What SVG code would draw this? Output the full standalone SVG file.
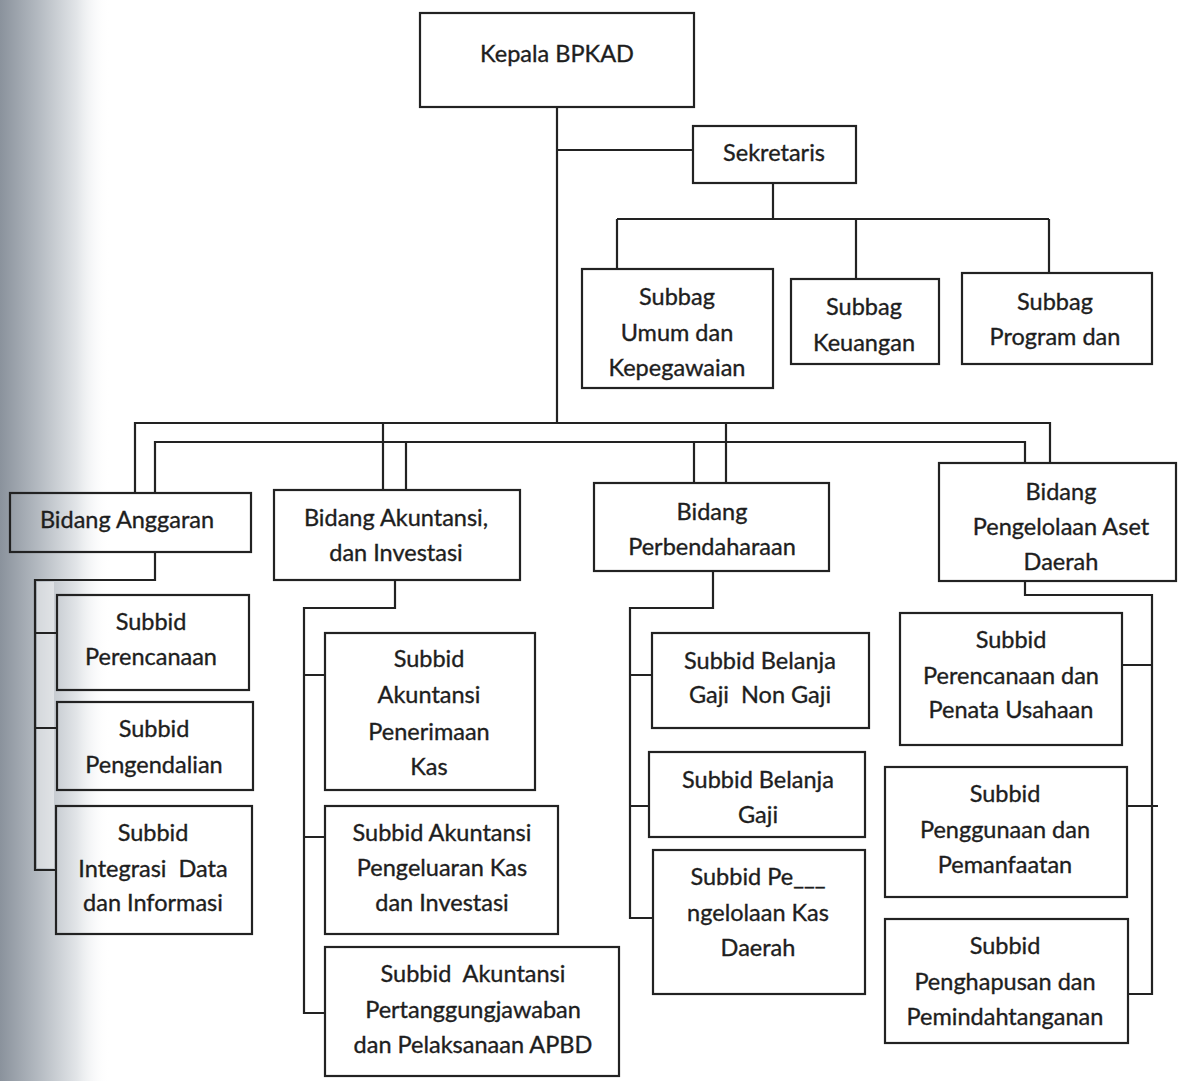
<svg xmlns="http://www.w3.org/2000/svg" width="1178" height="1081" viewBox="0 0 1178 1081">
<defs>
<linearGradient id="edge" x1="0" y1="0" x2="1" y2="0">
<stop offset="0" stop-color="#8a929c"/>
<stop offset="0.35" stop-color="#b4bac1"/>
<stop offset="0.7" stop-color="#e2e5e8"/>
<stop offset="1" stop-color="#ffffff" stop-opacity="0"/>
</linearGradient>
<style>
.box{fill:none;stroke:#222;stroke-width:2.2}
.ln{fill:none;stroke:#222;stroke-width:2.2}
text{font-family:Lato,"Open Sans",sans-serif;font-size:23.5px;fill:#1e1e1e;stroke:#1e1e1e;stroke-width:0.35;text-anchor:middle}
</style>
</defs>
<rect x="0" y="0" width="1178" height="1081" fill="#ffffff"/>
<rect x="0" y="0" width="110" height="1081" fill="url(#edge)"/>
<rect x="37" y="582" width="17" height="286" fill="#ffffff" opacity="0.45"/>

<g id="connectors">
<path class="ln" d="M557 107 V423"/>
<path class="ln" d="M557 150 H693"/>
<path class="ln" d="M773 183 V219 M617 219 H1049 M617 219 V269 M856 219 V279 M1049 219 V273"/>
<path class="ln" d="M135 493 V423 H1050 V463 M383 423 V490 M726 423 V483"/>
<path class="ln" d="M155 493 V442 H1025 V463 M406 442 V490 M694 442 V483"/>
<path class="ln" d="M155 552 V580 H35 V870 H56 M35 633 H57 M35 728 H57"/>
<path class="ln" d="M395 580 V608 H304 V1013 H325 M304 675 H325 M304 837 H325"/>
<path class="ln" d="M713 571 V608 H630 V918 H653 M630 675 H652 M630 806 H649"/>
<path class="ln" d="M1025 581 V595 H1152 V994 H1128 M1122 665 H1152 M1128 806 H1158"/>
</g>

<g id="kepala">
<rect class="box" x="420" y="13" width="274" height="94"/>
<text x="557" y="62">Kepala BPKAD</text>
</g>
<g id="sekretaris">
<rect class="box" x="693" y="126" width="163" height="57"/>
<text x="774" y="161">Sekretaris</text>
</g>
<g id="subbag-umum">
<rect class="box" x="582" y="269" width="191" height="119"/>
<text x="677" y="305">Subbag</text>
<text x="677" y="341">Umum dan</text>
<text x="677" y="376">Kepegawaian</text>
</g>
<g id="subbag-keuangan">
<rect class="box" x="791" y="279" width="148" height="85"/>
<text x="864" y="315">Subbag</text>
<text x="864" y="351">Keuangan</text>
</g>
<g id="subbag-program">
<rect class="box" x="962" y="273" width="190" height="91"/>
<text x="1055" y="310">Subbag</text>
<text x="1055" y="345">Program dan</text>
</g>

<g id="bidang-anggaran">
<rect class="box" x="10" y="493" width="241" height="59"/>
<text x="127" y="528">Bidang Anggaran</text>
</g>
<g id="bidang-akuntansi">
<rect class="box" x="274" y="490" width="246" height="90"/>
<text x="396" y="526">Bidang Akuntansi,</text>
<text x="396" y="561">dan Investasi</text>
</g>
<g id="bidang-perbendaharaan">
<rect class="box" x="594" y="483" width="235" height="88"/>
<text x="712" y="520">Bidang</text>
<text x="712" y="555">Perbendaharaan</text>
</g>
<g id="bidang-aset">
<rect class="box" x="939" y="463" width="237" height="118"/>
<text x="1061" y="500">Bidang</text>
<text x="1061" y="535">Pengelolaan Aset</text>
<text x="1061" y="570">Daerah</text>
</g>

<g id="subbid-perencanaan">
<rect class="box" x="57" y="595" width="192" height="95"/>
<text x="151" y="630">Subbid</text>
<text x="151" y="665">Perencanaan</text>
</g>
<g id="subbid-pengendalian">
<rect class="box" x="57" y="702" width="196" height="88"/>
<text x="154" y="737">Subbid</text>
<text x="154" y="773">Pengendalian</text>
</g>
<g id="subbid-integrasi">
<rect class="box" x="56" y="806" width="196" height="128"/>
<text x="153" y="841">Subbid</text>
<text x="153" y="877" xml:space="preserve">Integrasi  Data</text>
<text x="153" y="911">dan Informasi</text>
</g>

<g id="subbid-akt-penerimaan">
<rect class="box" x="325" y="633" width="210" height="157"/>
<text x="429" y="667">Subbid</text>
<text x="429" y="703">Akuntansi</text>
<text x="429" y="740">Penerimaan</text>
<text x="429" y="775">Kas</text>
</g>
<g id="subbid-akt-pengeluaran">
<rect class="box" x="325" y="806" width="233" height="128"/>
<text x="442" y="841">Subbid Akuntansi</text>
<text x="442" y="876">Pengeluaran Kas</text>
<text x="442" y="911">dan Investasi</text>
</g>
<g id="subbid-akt-pertanggungjawaban">
<rect class="box" x="325" y="947" width="294" height="129"/>
<text x="473" y="982" xml:space="preserve">Subbid  Akuntansi</text>
<text x="473" y="1018">Pertanggungjawaban</text>
<text x="473" y="1053">dan Pelaksanaan APBD</text>
</g>

<g id="subbid-belanja-nongaji">
<rect class="box" x="652" y="633" width="217" height="95"/>
<text x="760" y="669">Subbid Belanja</text>
<text x="760" y="703" xml:space="preserve">Gaji  Non Gaji</text>
</g>
<g id="subbid-belanja-gaji">
<rect class="box" x="649" y="752" width="216" height="85"/>
<text x="758" y="788">Subbid Belanja</text>
<text x="758" y="823">Gaji</text>
</g>
<g id="subbid-kas-daerah">
<rect class="box" x="653" y="850" width="212" height="144"/>
<text x="758" y="885">Subbid Pe___</text>
<text x="758" y="921">ngelolaan Kas</text>
<text x="758" y="956">Daerah</text>
</g>

<g id="subbid-penatausahaan">
<rect class="box" x="900" y="613" width="222" height="132"/>
<text x="1011" y="648">Subbid</text>
<text x="1011" y="684">Perencanaan dan</text>
<text x="1011" y="718">Penata Usahaan</text>
</g>
<g id="subbid-penggunaan">
<rect class="box" x="885" y="767" width="242" height="130"/>
<text x="1005" y="802">Subbid</text>
<text x="1005" y="838">Penggunaan dan</text>
<text x="1005" y="873">Pemanfaatan</text>
</g>
<g id="subbid-penghapusan">
<rect class="box" x="885" y="919" width="243" height="124"/>
<text x="1005" y="954">Subbid</text>
<text x="1005" y="990">Penghapusan dan</text>
<text x="1005" y="1025">Pemindahtanganan</text>
</g>
</svg>
